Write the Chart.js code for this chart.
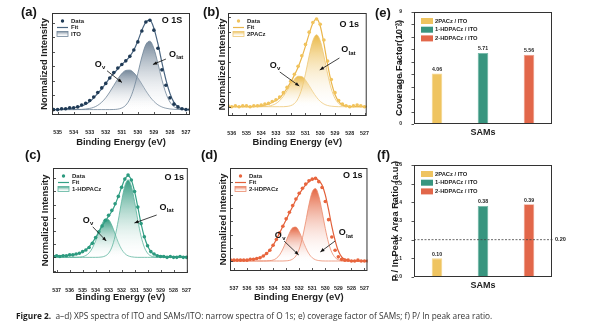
<!DOCTYPE html>
<html>
<head>
<meta charset="utf-8">
<script src="https://cdn.jsdelivr.net/npm/chart.js@4.4.1/dist/chart.umd.min.js"></script>
<style>
  html, body { margin: 0; padding: 0; background: #fff; }
  body { width: 600px; height: 322px; position: relative; overflow: hidden; font-family: "Liberation Sans", Arial, sans-serif; }
  canvas { position: absolute; }
  .tag { position: absolute; font-weight: bold; font-size: 13px; line-height: 13px; color: #151515; }
  #caption { position: absolute; left: 16px; top: 311px; font-family: "Open Sans", sans-serif; font-size: 8.3px; line-height: 10px; color: #333; white-space: nowrap; }
  #caption b { color: #1d1d1d; }
</style>
</head>
<body>
<canvas id="chartA" width="197" height="152" style="left:0;top:0"></canvas>
<canvas id="chartB" width="178" height="152" style="left:197px;top:0"></canvas>
<canvas id="chartE" width="225" height="145" style="left:375px;top:0"></canvas>
<canvas id="chartC" width="197" height="155" style="left:0;top:150px"></canvas>
<canvas id="chartD" width="178" height="155" style="left:197px;top:150px"></canvas>
<canvas id="chartF" width="225" height="150" style="left:375px;top:150px"></canvas>

<div class="tag" style="left:21px;top:5px">(a)</div>
<div class="tag" style="left:203px;top:5px">(b)</div>
<div class="tag" style="left:375px;top:6px">(e)</div>
<div class="tag" style="left:25px;top:148px">(c)</div>
<div class="tag" style="left:201px;top:148px">(d)</div>
<div class="tag" style="left:377px;top:148px">(f)</div>

<div id="caption"><b>Figure 2.</b>&nbsp; a–d) XPS spectra of ITO and SAMs/ITO: narrow spectra of O 1s; e) coverage factor of SAMs; f) P/ In peak area ratio.</div>

<script>
// O 1s spectra, binding energy grids (eV)
const energyA = [535.25, 535, 534.75, 534.5, 534.25, 534, 533.75, 533.5, 533.25, 533, 532.75, 532.5, 532.25, 532, 531.75, 531.5, 531.25, 531, 530.75, 530.5, 530.25, 530, 529.75, 529.5, 529.25, 529, 528.75, 528.5, 528.25, 528, 527.75, 527.5, 527.25, 527, 526.75]
const energyB = [536.25, 536, 535.75, 535.5, 535.25, 535, 534.75, 534.5, 534.25, 534, 533.75, 533.5, 533.25, 533, 532.75, 532.5, 532.25, 532, 531.75, 531.5, 531.25, 531, 530.75, 530.5, 530.25, 530, 529.75, 529.5, 529.25, 529, 528.75, 528.5, 528.25, 528, 527.75, 527.5, 527.25, 527, 526.75]
const energyCD = [537.25, 537, 536.75, 536.5, 536.25, 536, 535.75, 535.5, 535.25, 535, 534.75, 534.5, 534.25, 534, 533.75, 533.5, 533.25, 533, 532.75, 532.5, 532.25, 532, 531.75, 531.5, 531.25, 531, 530.75, 530.5, 530.25, 530, 529.75, 529.5, 529.25, 529, 528.75, 528.5, 528.25, 528, 527.75, 527.5, 527.25, 527, 526.75]

// (a) ITO
const dataA = [0.00, 0.00, 0.01, 0.01, 0.02, 0.02, 0.03, 0.05, 0.07, 0.10, 0.14, 0.19, 0.24, 0.29, 0.35, 0.41, 0.46, 0.50, 0.54, 0.59, 0.66, 0.75, 0.87, 0.97, 0.99, 0.88, 0.68, 0.44, 0.27, 0.13, 0.06, 0.03, 0.01, 0.00, 0.00]
const fitA = [0.00, 0.00, 0.00, 0.01, 0.01, 0.02, 0.03, 0.04, 0.06, 0.09, 0.13, 0.18, 0.23, 0.29, 0.35, 0.40, 0.45, 0.50, 0.54, 0.59, 0.66, 0.76, 0.88, 0.97, 0.99, 0.90, 0.73, 0.52, 0.33, 0.18, 0.08, 0.03, 0.01, 0.00, 0.00]
const ovA = [0, 0, 0, 0, 0, 0, 0.001, 0.002, 0.006, 0.013, 0.025, 0.047, 0.082, 0.131, 0.195, 0.267, 0.339, 0.399, 0.434, 0.437, 0.408, 0.352, 0.282, 0.208, 0.143, 0.091, 0.053, 0.029, 0.015, 0.007, 0.003, 0.001, 0, 0, 0]
const olatA = [0, 0, 0, 0, 0, 0, 0, 0, 0, 0, 0, 0, 0, 0, 0, 0.001, 0.005, 0.018, 0.049, 0.117, 0.235, 0.402, 0.584, 0.721, 0.758, 0.676, 0.513, 0.331, 0.181, 0.084, 0.033, 0.011, 0.003, 0, 0]

// (b) 2PACz
const dataB = [0.01, 0.00, 0.01, 0.00, 0.01, 0.01, 0.00, 0.01, 0.01, 0.02, 0.03, 0.04, 0.06, 0.08, 0.11, 0.16, 0.22, 0.29, 0.37, 0.46, 0.58, 0.71, 0.85, 0.96, 1.00, 0.94, 0.76, 0.52, 0.31, 0.16, 0.07, 0.03, 0.01, 0.00, 0.01, 0.02, 0.01, 0.00, 0.01]
const fitB = [0, 0, 0, 0, 0, 0, 0, 0, 0.01, 0.01, 0.02, 0.03, 0.05, 0.07, 0.10, 0.15, 0.21, 0.28, 0.36, 0.45, 0.56, 0.69, 0.83, 0.95, 1.00, 0.92, 0.72, 0.48, 0.28, 0.14, 0.06, 0.02, 0.01, 0, 0, 0, 0, 0, 0]
const ovB = [0, 0, 0, 0, 0, 0, 0, 0, 0, 0.001, 0.003, 0.007, 0.017, 0.036, 0.069, 0.119, 0.184, 0.254, 0.314, 0.347, 0.343, 0.304, 0.240, 0.170, 0.108, 0.061, 0.031, 0.014, 0.006, 0.002, 0, 0, 0, 0, 0, 0, 0, 0, 0]
const olatB = [0, 0, 0, 0, 0, 0, 0, 0, 0, 0, 0, 0, 0, 0, 0, 0, 0.003, 0.012, 0.036, 0.094, 0.204, 0.375, 0.580, 0.752, 0.820, 0.752, 0.580, 0.375, 0.204, 0.094, 0.036, 0.012, 0.003, 0, 0, 0, 0, 0, 0]

// (c) 1-HDPACz
const dataC = [0.01, 0.02, 0.01, 0.02, 0.02, 0.03, 0.03, 0.04, 0.05, 0.07, 0.09, 0.12, 0.17, 0.24, 0.31, 0.38, 0.45, 0.51, 0.57, 0.65, 0.74, 0.85, 0.95, 1.00, 0.94, 0.80, 0.61, 0.41, 0.25, 0.14, 0.07, 0.04, 0.02, 0.01, 0.01, 0.00, 0.01, 0.00, 0.00, 0.01, 0.00, 0.00, 0.00]
const fitC = [0.02, 0.02, 0.02, 0.02, 0.02, 0.03, 0.03, 0.04, 0.05, 0.07, 0.09, 0.13, 0.18, 0.24, 0.31, 0.38, 0.44, 0.50, 0.56, 0.64, 0.74, 0.85, 0.95, 0.99, 0.94, 0.80, 0.61, 0.41, 0.25, 0.14, 0.07, 0.04, 0.02, 0.02, 0.01, 0.01, 0.01, 0.01, 0.01, 0.01, 0.01, 0.01, 0.01]
const ovC = [0, 0, 0, 0, 0, 0, 0, 0.001, 0.003, 0.008, 0.023, 0.054, 0.112, 0.200, 0.307, 0.407, 0.465, 0.458, 0.389, 0.285, 0.180, 0.098, 0.046, 0.019, 0.007, 0.002, 0, 0, 0, 0, 0, 0, 0, 0, 0, 0, 0, 0, 0, 0, 0, 0, 0]
const olatC = [0, 0, 0, 0, 0, 0, 0, 0, 0, 0, 0, 0, 0, 0, 0.001, 0.005, 0.018, 0.050, 0.123, 0.256, 0.452, 0.679, 0.867, 0.940, 0.867, 0.679, 0.452, 0.256, 0.123, 0.050, 0.018, 0.005, 0.001, 0, 0, 0, 0, 0, 0, 0, 0, 0, 0]

// (d) 2-HDPACz
const dataD = [0.01, 0.01, 0.01, 0.01, 0.01, 0.01, 0.02, 0.02, 0.03, 0.04, 0.06, 0.09, 0.13, 0.19, 0.26, 0.34, 0.42, 0.51, 0.59, 0.67, 0.75, 0.82, 0.88, 0.93, 0.97, 0.99, 1.00, 0.96, 0.89, 0.72, 0.50, 0.29, 0.13, 0.05, 0.02, 0.01, 0.01, 0.00, 0.00, 0.01, 0.00, 0.00, 0.00]
const fitD = [0.01, 0.01, 0.01, 0.01, 0.01, 0.01, 0.02, 0.02, 0.03, 0.04, 0.06, 0.09, 0.13, 0.19, 0.26, 0.34, 0.42, 0.50, 0.58, 0.66, 0.74, 0.81, 0.87, 0.92, 0.96, 0.99, 1.00, 0.97, 0.92, 0.80, 0.62, 0.42, 0.25, 0.12, 0.05, 0.02, 0.01, 0, 0, 0, 0, 0, 0]
const ovD = [0, 0, 0, 0, 0, 0, 0, 0, 0, 0, 0, 0.001, 0.004, 0.012, 0.032, 0.074, 0.145, 0.240, 0.337, 0.403, 0.410, 0.354, 0.260, 0.162, 0.086, 0.039, 0.015, 0.005, 0.001, 0, 0, 0, 0, 0, 0, 0, 0, 0, 0, 0, 0, 0, 0]
const olatD = [0, 0, 0, 0, 0, 0, 0, 0, 0, 0, 0, 0, 0, 0, 0, 0, 0, 0.002, 0.007, 0.023, 0.062, 0.143, 0.282, 0.475, 0.682, 0.837, 0.877, 0.786, 0.601, 0.393, 0.219, 0.105, 0.043, 0.015, 0.004, 0.001, 0, 0, 0, 0, 0, 0, 0]

// (e), (f) SAM comparison
const samLabels = ['2PACz / ITO', '1-HDPACz / ITO', '2-HDPACz / ITO']
const coverageFactor = [4.06, 5.71, 5.56]
const peakAreaRatio = [0.10, 0.38, 0.39]
const ratioThreshold = 0.20

const FONT = '"Liberation Sans", Arial, sans-serif'
Chart.defaults.font.family = FONT
Chart.defaults.color = '#1e1e1e'
Chart.defaults.animation = false
Chart.defaults.responsive = false
Chart.defaults.plugins.legend.display = false
Chart.defaults.plugins.tooltip.enabled = false

const toPoints = (xs, ys) => xs.map((x, i) => ({x: x, y: ys[i]}))

// vertical fade from the peak of a component down to the baseline
function fadeFill(top) {
    return (ctx) => {
        const chart = ctx.chart
        if (!chart.chartArea) return top
        const ys = chart.data.datasets[ctx.datasetIndex].data.map(p => p.y)
        const yScale = chart.scales.y
        const g = chart.ctx.createLinearGradient(0, yScale.getPixelForValue(Math.max(...ys)), 0, yScale.getPixelForValue(0))
        g.addColorStop(0, top)
        g.addColorStop(1, 'rgba(255,255,255,0.05)')
        return g
    }
}

function arrow(ctx, x1, y1, x2, y2) {
    const ang = Math.atan2(y2 - y1, x2 - x1)
    ctx.beginPath()
    ctx.moveTo(x1, y1)
    ctx.lineTo(x2, y2)
    ctx.stroke()
    ctx.beginPath()
    ctx.moveTo(x2, y2)
    ctx.lineTo(x2 - 4.5 * Math.cos(ang - 0.4), y2 - 4.5 * Math.sin(ang - 0.4))
    ctx.lineTo(x2 - 4.5 * Math.cos(ang + 0.4), y2 - 4.5 * Math.sin(ang + 0.4))
    ctx.closePath()
    ctx.fill()
}

// frame, tick marks, legends and labels drawn on top of the plot
const decor = {
    id: 'decor',
    afterDatasetsDraw(chart, args, o) {
        const {ctx, chartArea: a, scales} = chart
        const xs = scales.x, ys = scales.y
        ctx.save()
        ctx.strokeStyle = '#2b2b2b'
        ctx.lineWidth = 0.8
        ctx.beginPath()
        if (o.inner) {
            xs.ticks.forEach(t => {
                const p = Math.round(xs.getPixelForValue(t.value)) + 0.5
                ctx.moveTo(p, a.bottom)
                ctx.lineTo(p, a.bottom - 3)
            })
            ys.ticks.forEach(t => {
                const p = Math.round(ys.getPixelForValue(t.value)) + 0.5
                ctx.moveTo(a.left, p)
                ctx.lineTo(a.left + 3, p)
            })
        } else {
            ys.ticks.forEach(t => {
                const p = Math.round(ys.getPixelForValue(t.value)) + 0.5
                ctx.moveTo(a.left, p)
                ctx.lineTo(a.left - 2.5, p)
            })
        }
        ctx.stroke()

        // threshold line
        if (o.threshold) {
            const py = ys.getPixelForValue(o.threshold.value)
            ctx.save()
            ctx.setLineDash([2, 1.5])
            ctx.strokeStyle = '#444'
            ctx.beginPath()
            ctx.moveTo(a.left, py)
            ctx.lineTo(a.right + 2, py)
            ctx.stroke()
            ctx.restore()
            ctx.fillStyle = '#1e1e1e'
            ctx.font = `bold 5.6px ${FONT}`
            ctx.textAlign = 'left'
            ctx.textBaseline = 'middle'
            ctx.fillText(o.threshold.text, a.right + 3, py)
        }

        ctx.lineWidth = 1
        ctx.strokeStyle = '#333'
        ctx.strokeRect(a.left + 0.5, a.top + 0.5, a.width - 1, a.height - 1)

        // spectrum legend
        if (o.legend) {
            const L = o.legend
            const x0 = a.left + 5
            ctx.font = `bold 6px ${FONT}`
            ctx.textAlign = 'left'
            ctx.textBaseline = 'middle'
            const rows = ['Data', 'Fit', L.name]
            rows.forEach((txt, i) => {
                const y = a.top + 8 + i * 6.5
                if (i === 0) {
                    ctx.fillStyle = L.dot
                    ctx.beginPath()
                    ctx.arc(x0 + 5.5, y, 1.7, 0, Math.PI * 2)
                    ctx.fill()
                } else if (i === 1) {
                    ctx.strokeStyle = L.fit
                    ctx.lineWidth = 1.2
                    ctx.beginPath()
                    ctx.moveTo(x0, y)
                    ctx.lineTo(x0 + 11, y)
                    ctx.stroke()
                } else {
                    const g = ctx.createLinearGradient(0, y - 2.5, 0, y + 2.5)
                    g.addColorStop(0, L.shade)
                    g.addColorStop(1, 'rgba(255,255,255,0.1)')
                    ctx.fillStyle = g
                    ctx.fillRect(x0, y - 2.5, 11, 5)
                    ctx.strokeStyle = L.edge
                    ctx.lineWidth = 0.8
                    ctx.strokeRect(x0, y - 2.5, 11, 5)
                }
                ctx.fillStyle = '#1e1e1e'
                ctx.fillText(txt, x0 + 14, y)
            })
        }

        // bar legend from the datasets
        if (o.barLegend) {
            ctx.font = `bold 5.8px ${FONT}`
            ctx.textAlign = 'left'
            ctx.textBaseline = 'middle'
            chart.data.datasets.forEach((ds, i) => {
                const y = a.top + 9 + i * 8.7
                ctx.fillStyle = ds.backgroundColor
                ctx.fillRect(a.left + 7, y - 3, 12, 6)
                ctx.fillStyle = '#1e1e1e'
                ctx.fillText(ds.label, a.left + 21, y)
            })
        }

        // values above bars
        if (o.barValues) {
            ctx.font = `bold 5.2px ${FONT}`
            ctx.textAlign = 'center'
            ctx.textBaseline = 'bottom'
            ctx.fillStyle = '#1e1e1e'
            chart.data.datasets.forEach((ds, i) => {
                chart.getDatasetMeta(i).data.forEach((bar, j) => {
                    const v = ds.data[j]
                    if (v === null) return
                    ctx.fillText(v.toFixed(2), bar.x, bar.y - 1.5)
                })
            })
        }

        // peak labels and arrows
        ctx.fillStyle = '#111'
        ctx.strokeStyle = '#111'
        ctx.lineWidth = 0.8
        ;(o.arrows || []).forEach(r => {
            arrow(ctx, xs.getPixelForValue(r[0]), ys.getPixelForValue(r[1]), xs.getPixelForValue(r[2]), ys.getPixelForValue(r[3]))
        })
        ;(o.notes || []).forEach(n => {
            const px = xs.getPixelForValue(n.x), py = ys.getPixelForValue(n.y)
            ctx.textBaseline = 'middle'
            ctx.textAlign = 'left'
            ctx.font = `bold 9px ${FONT}`
            const w = ctx.measureText(n.text).width
            let sw = 0
            if (n.sub) {
                ctx.font = `bold 6px ${FONT}`
                sw = ctx.measureText(n.sub).width
            }
            const start = px - (w + sw) / 2
            ctx.font = `bold 9px ${FONT}`
            ctx.fillText(n.text, start, py)
            if (n.sub) {
                ctx.font = `bold 6px ${FONT}`
                ctx.fillText(n.sub, start + w + 0.3, py + 3)
            }
        })
        ctx.restore()
    }
}

function drawSpectrum(id, s) {
    return new Chart(document.getElementById(id), {
        type: 'line',
        data: {
            datasets: [
                {
                    label: 'Data',
                    data: toPoints(s.energy, s.data),
                    showLine: false,
                    pointRadius: 1.8,
                    pointBackgroundColor: s.dot,
                    pointBorderWidth: 0,
                    order: 0
                },
                {
                    label: 'Fit',
                    data: toPoints(s.energy, s.fit),
                    borderColor: s.fitColor,
                    borderWidth: 1.2,
                    pointRadius: 0,
                    cubicInterpolationMode: 'monotone',
                    order: 1
                },
                {
                    label: 'Olat',
                    data: toPoints(s.energy, s.olat),
                    borderColor: s.edge,
                    borderWidth: 0.8,
                    pointRadius: 0,
                    cubicInterpolationMode: 'monotone',
                    fill: 'origin',
                    backgroundColor: fadeFill(s.shade),
                    order: 2
                },
                {
                    label: 'Ov',
                    data: toPoints(s.energy, s.ov),
                    borderColor: s.edge,
                    borderWidth: 0.8,
                    pointRadius: 0,
                    cubicInterpolationMode: 'monotone',
                    fill: 'origin',
                    backgroundColor: fadeFill(s.shade),
                    order: 3
                }
            ]
        },
        options: {
            layout: {padding: {left: 0, top: s.box.top, right: s.box.right, bottom: 0}},
            scales: {
                x: {
                    type: 'linear',
                    reverse: true,
                    min: s.xMin,
                    max: s.xMax,
                    grid: {display: false},
                    border: {display: false},
                    ticks: {stepSize: 1, includeBounds: false, autoSkip: false, maxRotation: 0, padding: 6, font: {size: 5.3, weight: 'bold'}},
                    title: {display: true, text: 'Binding Energy (eV)', font: {size: 9.4, weight: 'bold'}, padding: {bottom: s.box.xTitle}},
                    afterFit: sc => { sc.height = s.box.bottom }
                },
                y: {
                    min: s.yMin,
                    max: s.yMax,
                    grid: {display: false},
                    border: {display: false},
                    ticks: {display: false, stepSize: s.yStep, includeBounds: false},
                    title: {display: true, text: 'Normalized Intensity', font: {size: 9.4, weight: 'bold'}, padding: {top: s.box.yTitle}},
                    afterFit: sc => { sc.width = s.box.left }
                }
            },
            plugins: {
                decor: {
                    inner: true,
                    legend: {name: s.name, dot: s.dot, fit: s.fitColor, shade: s.shade, edge: s.edge},
                    notes: s.notes,
                    arrows: s.arrows
                }
            }
        },
        plugins: [decor]
    })
}

const barColors = ['#efc460', '#38957f', '#e2674a']
const barEdges = ['#f6d98f', '#6fb8a5', '#f0a08a']

function drawBars(id, values, b) {
    return new Chart(document.getElementById(id), {
        type: 'bar',
        data: {
            labels: samLabels,
            datasets: samLabels.map((lab, i) => ({
                label: lab,
                data: values.map((v, j) => (j === i ? v : null)),
                backgroundColor: barColors[i],
                borderColor: barEdges[i],
                borderWidth: 0.8,
                barPercentage: 0.23,
                categoryPercentage: 1,
                skipNull: true
            }))
        },
        options: {
            layout: {padding: {left: 0, top: b.top, right: b.right, bottom: 0}},
            scales: {
                x: {
                    grid: {display: false},
                    border: {display: false},
                    ticks: {display: false},
                    title: {display: true, text: 'SAMs', font: {size: 9, weight: 'bold'}, padding: {bottom: b.xTitle}},
                    afterFit: sc => { sc.height = b.bottom }
                },
                y: {
                    min: 0,
                    max: b.max,
                    grid: {display: false},
                    border: {display: false},
                    ticks: {stepSize: b.step, padding: 4, font: {size: 5, weight: 'bold'}, callback: b.fmt},
                    title: {display: true, text: b.title, font: {size: 9.3, weight: 'bold'}, padding: {top: b.yTitle}},
                    afterFit: sc => { sc.width = b.left }
                }
            },
            plugins: {
                decor: {inner: false, barLegend: true, barValues: true, threshold: b.threshold}
            }
        },
        plugins: [decor]
    })
}

drawSpectrum('chartA', {
    energy: energyA, data: dataA, fit: fitA, ov: ovA, olat: olatA,
    name: 'ITO', dot: '#1f3a55', fitColor: '#4a6580', edge: '#6f8498', shade: 'rgba(70,95,120,0.75)',
    xMin: 526.75, xMax: 535.35, yMin: -0.06, yMax: 1.07, yStep: 0.16,
    box: {left: 52, top: 13, right: 7, bottom: 37, xTitle: 4.4, yTitle: 38.4},
    notes: [
        {text: 'O 1S', x: 527.87, y: 0.99},
        {text: 'O', sub: 'v', x: 532.36, y: 0.50},
        {text: 'O', sub: 'lat', x: 527.62, y: 0.61}
    ],
    arrows: [[531.92, 0.43, 530.99, 0.30], [528.25, 0.56, 529.06, 0.50]]
})

drawSpectrum('chartB', {
    energy: energyB, data: dataB, fit: fitB, ov: ovB, olat: olatB,
    name: '2PACz', dot: '#f1c35c', fitColor: '#eab64c', edge: '#eec774', shade: 'rgba(233,178,52,0.9)',
    xMin: 526.85, xMax: 536.25, yMin: -0.106, yMax: 1.068, yStep: 0.17,
    box: {left: 31, top: 13, right: 5, bottom: 36, xTitle: 4.4, yTitle: 19.4},
    notes: [
        {text: 'O 1s', x: 528.04, y: 0.94},
        {text: 'O', sub: 'v', x: 533.07, y: 0.475},
        {text: 'O', sub: 'lat', x: 528.1, y: 0.647}
    ],
    arrows: [[532.74, 0.396, 531.42, 0.236], [528.7, 0.555, 530.03, 0.418]]
})

drawSpectrum('chartC', {
    energy: energyCD, data: dataC, fit: fitC, ov: ovC, olat: olatC,
    name: '1-HDPACz', dot: '#2c9a7f', fitColor: '#34a086', edge: '#5bb49d', shade: 'rgba(30,145,115,0.9)',
    xMin: 526.9, xMax: 537.28, yMin: -0.19, yMax: 1.085, yStep: 0.16,
    box: {left: 53, top: 18, right: 5, bottom: 32, xTitle: 2.4, yTitle: 39.4},
    notes: [
        {text: 'O 1s', x: 527.95, y: 0.964},
        {text: 'O', sub: 'v', x: 534.59, y: 0.453},
        {text: 'O', sub: 'lat', x: 528.55, y: 0.611}
    ],
    arrows: [[534.22, 0.371, 533.18, 0.199], [529.3, 0.514, 531.01, 0.417]]
})

drawSpectrum('chartD', {
    energy: energyCD, data: dataD, fit: fitD, ov: ovD, olat: olatD,
    name: '2-HDPACz', dot: '#e8653d', fitColor: '#e2603a', edge: '#ec8a6c', shade: 'rgba(225,85,45,0.9)',
    xMin: 526.77, xMax: 537.3, yMin: -0.121, yMax: 1.125, yStep: 0.16,
    box: {left: 33, top: 18, right: 5, bottom: 34, xTitle: 2.4, yTitle: 20.4},
    notes: [
        {text: 'O 1s', x: 527.9, y: 1.03},
        {text: 'O', sub: 'v', x: 533.47, y: 0.314},
        {text: 'O', sub: 'lat', x: 528.43, y: 0.339}
    ],
    arrows: [[533.16, 0.242, 532.04, 0.073], [529.25, 0.242, 530.38, 0.109]]
})

drawBars('chartE', coverageFactor, {
    title: 'Coverage Factor(10⁻³)', max: 9, step: 1, fmt: v => v,
    left: 39, top: 12, right: 48, bottom: 21, xTitle: 6.6, yTitle: 19
})

drawBars('chartF', peakAreaRatio, {
    title: 'P / In Peak Area Ratio (a.u.)', max: 0.6, step: 0.1, fmt: v => v.toFixed(1),
    left: 39, top: 15, right: 48, bottom: 23, xTitle: 8.9, yTitle: 14.4,
    threshold: {value: ratioThreshold, text: ratioThreshold.toFixed(2)}
})
</script>
</body>
</html>
